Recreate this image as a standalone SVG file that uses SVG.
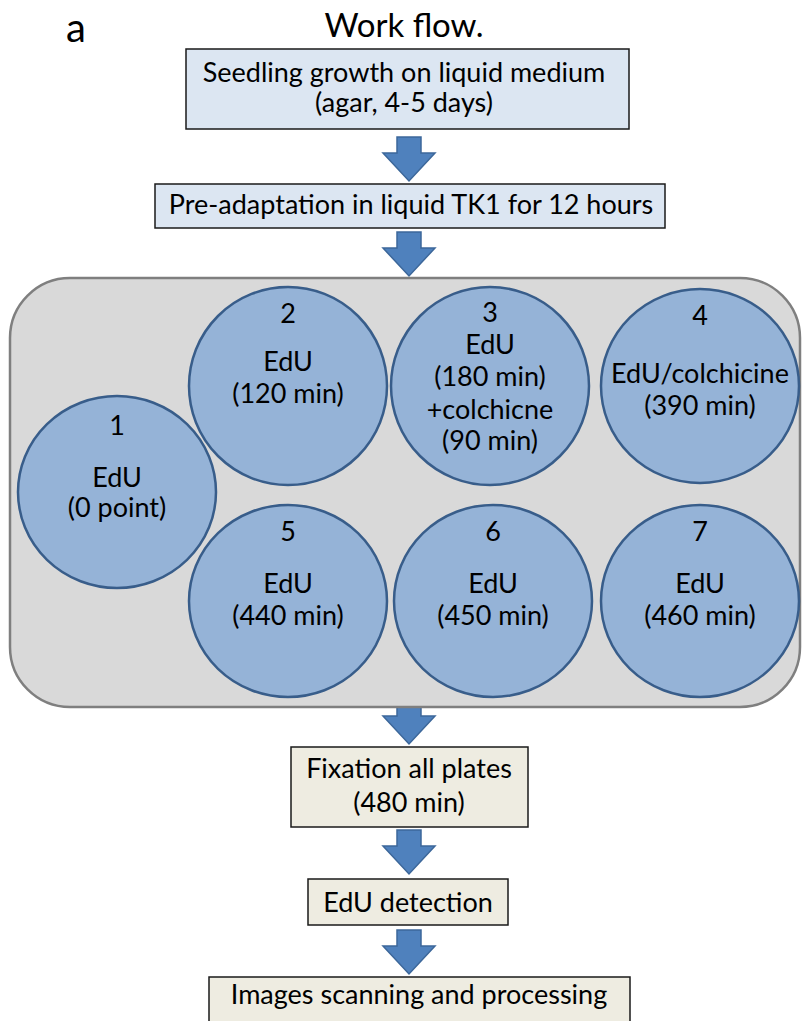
<svg xmlns="http://www.w3.org/2000/svg" width="802" height="1021" viewBox="0 0 802 1021">
<defs>
<style>
text{font-family:Lato,"Liberation Sans",sans-serif;font-size:27px;fill:#000;text-anchor:middle}
.box1{fill:#dce6f2;stroke:#1a1a1a;stroke-width:1.5}
.box2{fill:#eeece1;stroke:#1a1a1a;stroke-width:1.5}
.well{fill:#95b3d7;stroke:#385d8a;stroke-width:2.5}
.arrow{fill:#4f81bd;stroke:#3c679a;stroke-width:1.5}
</style>
<path id="arr" class="arrow" d="M-12,0 H12 V16 H26 L0,44 L-26,16 H-12 Z"/>
</defs>
<text x="66" y="42" style="font-size:40px;text-anchor:start">a</text>
<text x="404" y="37" style="font-size:33px">Work flow.</text>

<g id="connectors">
<use href="#arr" x="409" y="137"/>
<use href="#arr" x="409" y="232"/>
<use href="#arr" x="409" y="700"/>
<use href="#arr" x="409" y="830"/>
<use href="#arr" x="409" y="930"/>
</g>

<g id="seedling">
<rect class="box1" x="186" y="49" width="443" height="80"/>
<text x="404" y="82">Seedling growth on liquid medium</text>
<text x="404" y="112">(agar, 4-5 days)</text>
</g>
<g id="preadapt">
<rect class="box1" x="155" y="184" width="510" height="44"/>
<text x="411" y="214">Pre-adaptation in liquid TK1 for 12 hours</text>
</g>

<g id="plate">
<rect x="10" y="278" width="790" height="429" rx="60" ry="60" fill="#d9d9d9" stroke="#7f7f7f" stroke-width="2.5"/>
</g>
<g id="well1">
<ellipse class="well" cx="117" cy="492" rx="99" ry="96"/>
<text x="117" y="435">1</text>
<text x="117" y="487">EdU</text>
<text x="117" y="517">(0 point)</text>
</g>
<g id="well2">
<ellipse class="well" cx="288" cy="386" rx="99" ry="99"/>
<text x="288" y="323">2</text>
<text x="288" y="371">EdU</text>
<text x="288" y="403">(120 min)</text>
</g>
<g id="well3">
<ellipse class="well" cx="490" cy="386" rx="99" ry="99"/>
<text x="490" y="322">3</text>
<text x="490" y="354">EdU</text>
<text x="490" y="386">(180 min)</text>
<text x="490" y="419">+colchicne</text>
<text x="490" y="450">(90 min)</text>
</g>
<g id="well4">
<ellipse class="well" cx="700" cy="386" rx="99" ry="97"/>
<text x="700" y="325">4</text>
<text x="700" y="383">EdU/colchicine</text>
<text x="700" y="415">(390 min)</text>
</g>
<g id="well5">
<ellipse class="well" cx="288" cy="601" rx="99" ry="96"/>
<text x="288" y="541">5</text>
<text x="288" y="593">EdU</text>
<text x="288" y="625">(440 min)</text>
</g>
<g id="well6">
<ellipse class="well" cx="493" cy="601" rx="99" ry="96"/>
<text x="493" y="541">6</text>
<text x="493" y="593">EdU</text>
<text x="493" y="625">(450 min)</text>
</g>
<g id="well7">
<ellipse class="well" cx="700" cy="601" rx="99" ry="96"/>
<text x="700" y="541">7</text>
<text x="700" y="593">EdU</text>
<text x="700" y="625">(460 min)</text>
</g>

<g id="fixation">
<rect class="box2" x="291" y="747" width="237" height="80"/>
<text x="409" y="778">Fixation all plates</text>
<text x="409" y="812">(480 min)</text>
</g>
<g id="detection">
<rect class="box2" x="308" y="879" width="200" height="46"/>
<text x="408" y="912">EdU detection</text>
</g>
<g id="scanning">
<rect class="box2" x="209" y="977" width="421" height="60"/>
<text x="419" y="1004">Images scanning and processing</text>
</g>
</svg>
